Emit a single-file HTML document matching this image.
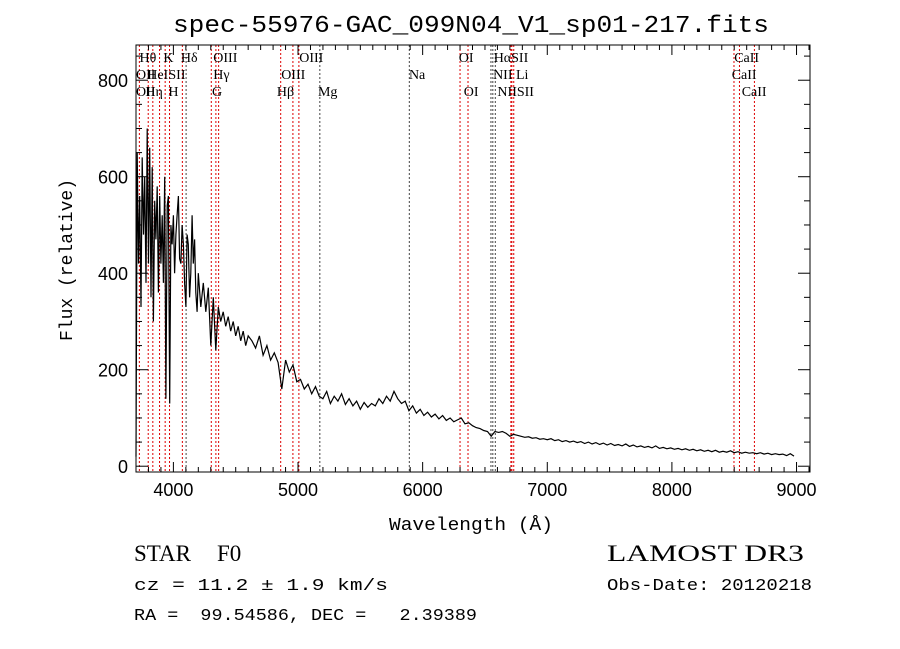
<!DOCTYPE html>
<html><head><meta charset="utf-8"><style>
body{margin:0;background:#fff;width:900px;height:649px;overflow:hidden}
svg{display:block}
</style></head><body>
<svg id="chart" width="900" height="649" xmlns="http://www.w3.org/2000/svg">
<text x="173" y="32" textLength="596" lengthAdjust="spacingAndGlyphs" font-family="Liberation Mono, monospace" font-size="24">spec-55976-GAC_099N04_V1_sp01-217.fits</text>
<text x="389" y="530" textLength="164" lengthAdjust="spacingAndGlyphs" font-family="Liberation Mono, monospace" font-size="18">Wavelength (Å)</text>
<text transform="translate(72,260) rotate(-90)" font-family="Liberation Mono, monospace" font-size="18" text-anchor="middle">Flux (relative)</text>
<text x="134" y="561" font-family="Liberation Serif, serif" font-size="23">STAR<tspan x="217">F0</tspan></text>
<text x="134" y="590" textLength="254" lengthAdjust="spacingAndGlyphs" font-family="Liberation Mono, monospace" font-size="17">cz = 11.2 ± 1.9 km/s</text>
<text x="134" y="620" xml:space="preserve" textLength="343" lengthAdjust="spacingAndGlyphs" font-family="Liberation Mono, monospace" font-size="17">RA =  99.54586, DEC =   2.39389</text>
<text x="607" y="561" textLength="197" lengthAdjust="spacingAndGlyphs" font-family="Liberation Serif, serif" font-size="23">LAMOST DR3</text>
<text x="607" y="590" textLength="205" lengthAdjust="spacingAndGlyphs" font-family="Liberation Mono, monospace" font-size="17">Obs-Date: 20120218</text>
</svg>
<script>
const wave=[3700,3710,3720,3730,3740,3750,3760,3770,3780,3790,3800,3810,3820,3830,3840,3850,3860,3870,3880,3890,3900,3910,3920,3930,3940,3950,3960,3970,3980,3990,4000,4010,4020,4030,4040,4050,4060,4070,4080,4090,4100,4110,4120,4130,4140,4150,4160,4170,4180,4190,4200,4220,4240,4260,4280,4300,4320,4340,4360,4380,4400,4420,4440,4460,4480,4500,4520,4540,4560,4580,4600,
4630,4660,4690,4720,4750,4780,4810,4840,4870,4900,4930,4960,4990,5020,5050,5080,5110,5140,5170,5200,5230,5260,5290,5320,5350,5380,5410,5440,5470,5500,5530,5560,5590,5620,5650,5680,5710,5740,5770,5800,5830,5860,5890,5920,5950,5980,6010,6040,6070,6100,6130,6160,6190,6220,6250,6280,6310,6340,6370,6400,6430,6460,6490,6520,6550,6580,6610,6640,6670,6700,6730,6760,6790,6820,6850,6880,6910,6940,6970,7000,
7030,7060,7090,7120,7150,7180,7210,7240,7270,7300,7330,7360,7390,7420,7450,7480,7510,7540,7570,7600,7630,7660,7690,7720,7750,7780,7810,7840,7870,7900,7930,7960,7990,8020,8050,8080,8110,8140,8170,8200,8230,8260,8290,8320,8350,8380,8410,8440,8470,8500,8530,8560,8590,8620,8650,8680,8710,8740,8770,8800,8830,8860,8890,8920,8950,8980];
const flux=[20,650,420,560,330,640,480,600,380,700,420,660,350,620,300,550,470,580,360,560,420,520,380,600,140,540,560,130,500,460,520,400,480,520,560,430,420,500,460,380,330,480,460,350,400,520,420,470,360,320,400,330,380,320,370,250,350,240,330,300,320,290,310,280,300,270,290,260,280,250,270,
260,245,270,230,250,220,235,215,160,220,195,210,175,180,160,170,150,165,145,140,155,130,145,135,150,128,140,125,135,118,132,122,130,125,140,130,145,135,155,140,130,135,115,125,110,118,105,112,102,108,98,105,95,100,92,96,100,88,90,84,80,78,74,72,62,72,70,72,68,62,66,64,62,60,61,58,59,56,57,55,
57,53,55,51,53,50,52,49,51,47,50,46,49,45,48,44,47,43,45,42,46,41,44,40,42,39,41,38,42,37,39,36,38,35,37,34,36,33,35,32,34,31,33,30,33,29,31,29,32,28,30,27,29,27,28,26,28,25,27,24,26,24,25,22,26,21];
const xTicks=[4000,5000,6000,7000,8000,9000];
const yTicks=[0,200,400,600,800];
const lineWaves=[3727,3798,3835,3889,3934,3969,4072,4102,4304,4341,4363,4861,4959,5007,5175,5893,6300,6364,6548,6563,6583,6708,6716,6731,8498,8542,8662];
const lineBlack=[false,false,false,false,false,false,false,true,false,false,false,false,false,false,true,true,false,false,true,true,true,false,false,false,false,false,false];
const labelText=["Hθ","K","Hδ","OIII","OIII","OI","HαSII","CaII","OII","HeI","SII","Hγ","OIII","Na","NII Li","CaII","OII","Hη","H","G","Hβ","Mg","OI","NIISII","CaII"];
const labelWave=[3728,3920,4060,4320,5010,6290,6570,8500,3700,3790,3960,4320,4865,5890,6565,8480,3700,3775,3960,4310,4830,5160,6330,6600,8560];
const labelRow=[0,0,0,0,0,0,0,0,1,1,1,1,1,1,1,1,2,2,2,2,2,2,2,2,2];

const L=136,R=810,T=45,B=472;
const X0=3700,X1=9108,Y0=-12,Y1=873;
const sx=w=>L+(w-X0)/(X1-X0)*(R-L);
const sy=f=>B-(f-Y0)/(Y1-Y0)*(B-T);
const svg=document.getElementById('chart');
const NS='http://www.w3.org/2000/svg';
function mk(t,a){const e=document.createElementNS(NS,t);for(const k in a)e.setAttribute(k,a[k]);svg.appendChild(e);return e;}

lineWaves.forEach((w,i)=>{
  const e=mk('line',{x1:sx(w),x2:sx(w),y1:T,y2:B,stroke:lineBlack[i]?'#444':'#d00','stroke-width':1,'stroke-dasharray':'2,2'});
  
  
});
labelText.forEach((t,i)=>{
  const e=mk('text',{x:sx(labelWave[i]),y:62+labelRow[i]*17,'font-family':'Liberation Serif, serif','font-size':14});
  e.textContent=t;
  
  
});

let d='';
wave.forEach((w,i)=>{d+=(i?'L':'M')+sx(w).toFixed(1)+','+sy(flux[i]).toFixed(1);});
const sp=mk('path',{d:d,fill:'none',stroke:'#000','stroke-width':1.2});



const fr=mk('rect',{x:L,y:T,width:R-L,height:B-T,fill:'none',stroke:'#000','stroke-width':1});



for(let w=3800;w<=9100;w+=100){
  const major=w%1000===0;const len=major?10:5;
  mk('line',{x1:sx(w),x2:sx(w),y1:B,y2:B-len,stroke:'#000'});
  mk('line',{x1:sx(w),x2:sx(w),y1:T,y2:T+len,stroke:'#000'});
}
xTicks.forEach(v=>{
  const e=mk('text',{x:sx(v),y:B+24,'font-family':'Liberation Sans, sans-serif','font-size':18,'text-anchor':'middle'});
  e.textContent=v;
  
  
});
for(let f=0;f<=850;f+=50){
  const major=f%200===0;const len=major?12:6;
  mk('line',{x1:L,x2:L+len,y1:sy(f),y2:sy(f),stroke:'#000'});
  mk('line',{x1:R,x2:R-len,y1:sy(f),y2:sy(f),stroke:'#000'});
}
yTicks.forEach(v=>{
  const e=mk('text',{x:L-8,y:sy(v)+7,'font-family':'Liberation Sans, sans-serif','font-size':18,'text-anchor':'end'});
  e.textContent=v;
  
  
});
</script>
</body></html>
